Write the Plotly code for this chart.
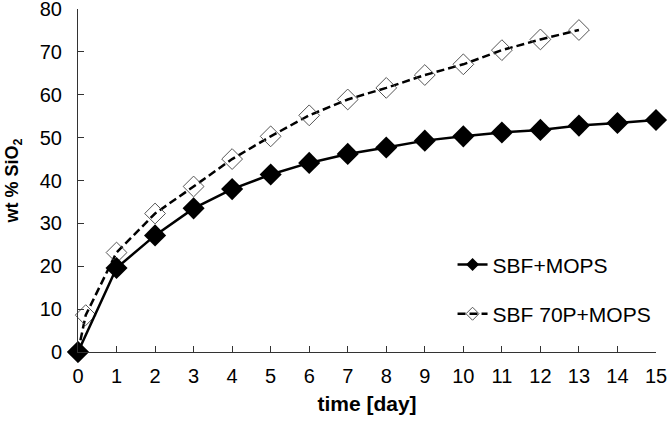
import plotly.graph_objects as go

days_mops = list(range(0, 16))
sio2_mops = [0, 19.6, 27.2, 33.5, 38.0, 41.4, 44.1, 46.2, 47.7, 49.3, 50.3, 51.2, 51.8, 52.8, 53.4, 54.1]

days_70p = [0, 0.2, 1, 2, 3, 4, 5, 6, 7, 8, 9, 10, 11, 12, 13]
sio2_70p = [0, 8.6, 23.2, 32.3, 38.6, 45.0, 50.3, 55.2, 58.9, 61.6, 64.6, 67.1, 70.4, 72.9, 75.1]

x_ticks = list(range(0, 16))
y_ticks = list(range(0, 81, 10))

font = "Liberation Sans, Arial, sans-serif"
dash_style = "8px,4px"

fig = go.Figure()
fig.add_trace(go.Scatter(
    x=days_70p, y=sio2_70p, mode="lines+markers", name="SBF 70P+MOPS",
    showlegend=False,
    line=dict(color="black", width=2.5, dash=dash_style),
    marker=dict(symbol="diamond-open", size=16, color="#555555", line=dict(color="#555555", width=1)),
    cliponaxis=False,
))
fig.add_trace(go.Scatter(
    x=days_mops, y=sio2_mops, mode="lines+markers", name="SBF+MOPS",
    showlegend=False,
    line=dict(color="black", width=2.5),
    marker=dict(symbol="diamond", size=17, color="black", line=dict(color="black", width=0)),
    cliponaxis=False,
))
# legend entries (smaller legend symbols, as in the reference)
fig.add_trace(go.Scatter(
    x=[None], y=[None], mode="lines+markers", name="SBF+MOPS",
    legendgroup="a", legendrank=1,
    line=dict(color="black", width=2.5),
    marker=dict(symbol="diamond", size=10, color="black"),
))
fig.add_trace(go.Scatter(
    x=[None], y=[None], mode="lines+markers", name="SBF 70P+MOPS",
    legendgroup="b", legendrank=2,
    line=dict(color="black", width=2.5, dash=dash_style),
    marker=dict(symbol="diamond-open", size=10, color="#555555", line=dict(color="#555555", width=1)),
))

fig.update_layout(
    width=670, height=422,
    margin=dict(l=78, r=14, t=9, b=70, autoexpand=False),
    paper_bgcolor="white", plot_bgcolor="white",
    font=dict(family=font, size=20, color="black"),
    showlegend=True,
    legend=dict(
        x=0.648, y=0.314, xanchor="left", yanchor="top",
        bgcolor="rgba(0,0,0,0)", font=dict(size=21),
        tracegroupgap=19,
    ),
    xaxis=dict(
        range=[0, 15], tickmode="array", tickvals=x_ticks, automargin=False,
        showgrid=False, zeroline=False, showline=True, linecolor="#333333", linewidth=1,
        ticks="inside", ticklen=6, tickcolor="#333333",
        ticklabelstandoff=6, ticklabeloverflow="allow",
        title=dict(text="<b>time [day]</b>", font=dict(size=21), standoff=10),
    ),
    yaxis=dict(
        range=[0, 80], tickmode="array", tickvals=y_ticks, automargin=False,
        showgrid=False, zeroline=False, showline=True, linecolor="#333333", linewidth=1,
        ticks="inside", ticklen=6, tickcolor="#333333",
        ticklabelstandoff=11, ticklabeloverflow="allow",
        title=dict(text="<b>wt % SiO<sub>2</sub></b>", font=dict(size=18), standoff=16),
    ),
)

fig.write_html("out.html", post_script="document.body.style.margin='0';",
               config={"displayModeBar": False})
